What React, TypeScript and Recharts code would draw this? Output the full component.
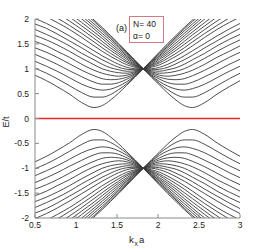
import React from 'react';
import { LineChart, Line, XAxis, YAxis } from 'recharts';

// k_x a sample points (Dirac point near 1.82)
const kValues = [0.5, 0.64, 0.77, 0.92, 1.07, 1.22, 1.32, 1.42, 1.52, 1.62, 1.72, 1.82, 1.92, 2.02, 2.12, 2.22, 2.32, 2.42, 2.57, 2.72, 2.87, 3.0];

// E/t of the positive sub-bands
const upperBands = [
  [0.87, 0.76, 0.64, 0.49, 0.32, 0.22, 0.26, 0.37, 0.51, 0.67, 0.83, 1, 1.17, 1.34, 1.51, 1.67, 1.83, 1.98, 2.2, 2.39, 2.56, 2.69],
  [1.01, 0.91, 0.8, 0.66, 0.52, 0.43, 0.43, 0.48, 0.58, 0.7, 0.85, 1, 1.16, 1.32, 1.48, 1.64, 1.8, 1.95, 2.16, 2.35, 2.52, 2.65],
  [1.15, 1.05, 0.95, 0.82, 0.69, 0.6, 0.57, 0.59, 0.65, 0.74, 0.86, 1, 1.15, 1.3, 1.45, 1.61, 1.76, 1.9, 2.11, 2.3, 2.47, 2.59],
  [1.29, 1.19, 1.09, 0.96, 0.84, 0.73, 0.69, 0.69, 0.72, 0.79, 0.88, 1, 1.13, 1.27, 1.42, 1.57, 1.71, 1.85, 2.06, 2.24, 2.41, 2.53],
  [1.42, 1.33, 1.23, 1.1, 0.97, 0.86, 0.8, 0.78, 0.79, 0.83, 0.9, 1, 1.12, 1.25, 1.38, 1.52, 1.66, 1.8, 2, 2.18, 2.34, 2.46],
  [1.55, 1.46, 1.35, 1.23, 1.09, 0.97, 0.91, 0.87, 0.85, 0.87, 0.92, 1, 1.1, 1.22, 1.34, 1.47, 1.61, 1.74, 1.93, 2.11, 2.27, 2.39],
  [1.67, 1.58, 1.48, 1.35, 1.21, 1.08, 1, 0.95, 0.92, 0.91, 0.94, 1, 1.08, 1.19, 1.3, 1.42, 1.55, 1.68, 1.86, 2.04, 2.19, 2.31],
  [1.79, 1.69, 1.59, 1.46, 1.31, 1.18, 1.09, 1.02, 0.98, 0.95, 0.96, 1, 1.07, 1.15, 1.26, 1.37, 1.49, 1.61, 1.79, 1.96, 2.11, 2.22],
  [1.9, 1.81, 1.7, 1.56, 1.42, 1.27, 1.18, 1.1, 1.03, 0.99, 0.98, 1, 1.05, 1.12, 1.21, 1.31, 1.42, 1.54, 1.71, 1.87, 2.02, 2.13],
  [2.01, 1.91, 1.8, 1.66, 1.51, 1.36, 1.26, 1.17, 1.09, 1.03, 1, 1, 1.03, 1.08, 1.16, 1.25, 1.35, 1.46, 1.63, 1.79, 1.93, 2.04],
  [2.14, 2.04, 1.93, 1.79, 1.63, 1.46, 1.35, 1.25, 1.16, 1.08, 1.03, 1, 1, 1.03, 1.09, 1.17, 1.26, 1.36, 1.51, 1.66, 1.8, 1.91],
  [2.24, 2.13, 2.02, 1.87, 1.71, 1.54, 1.42, 1.31, 1.21, 1.12, 1.05, 1, 0.98, 0.99, 1.03, 1.1, 1.18, 1.27, 1.42, 1.56, 1.7, 1.81],
  [2.33, 2.22, 2.11, 1.96, 1.79, 1.61, 1.49, 1.37, 1.26, 1.15, 1.07, 1, 0.96, 0.95, 0.98, 1.02, 1.09, 1.18, 1.31, 1.46, 1.59, 1.69],
  [2.41, 2.31, 2.19, 2.04, 1.86, 1.68, 1.55, 1.42, 1.3, 1.19, 1.08, 1, 0.94, 0.91, 0.92, 0.95, 1, 1.08, 1.21, 1.35, 1.48, 1.58],
  [2.5, 2.39, 2.27, 2.11, 1.93, 1.74, 1.61, 1.47, 1.34, 1.22, 1.1, 1, 0.92, 0.87, 0.85, 0.87, 0.91, 0.97, 1.09, 1.23, 1.35, 1.46],
  [2.57, 2.46, 2.34, 2.18, 2, 1.8, 1.66, 1.52, 1.38, 1.25, 1.12, 1, 0.9, 0.83, 0.79, 0.78, 0.8, 0.86, 0.97, 1.1, 1.23, 1.33],
  [2.64, 2.53, 2.41, 2.24, 2.06, 1.85, 1.71, 1.57, 1.42, 1.27, 1.13, 1, 0.88, 0.79, 0.72, 0.69, 0.69, 0.73, 0.84, 0.96, 1.09, 1.19],
  [2.7, 2.59, 2.47, 2.3, 2.11, 1.9, 1.76, 1.61, 1.45, 1.3, 1.15, 1, 0.86, 0.74, 0.65, 0.59, 0.57, 0.6, 0.69, 0.82, 0.95, 1.05],
  [2.76, 2.65, 2.52, 2.35, 2.16, 1.95, 1.8, 1.64, 1.48, 1.32, 1.16, 1, 0.85, 0.7, 0.58, 0.48, 0.43, 0.43, 0.52, 0.66, 0.8, 0.91],
  [2.8, 2.69, 2.56, 2.39, 2.2, 1.98, 1.83, 1.67, 1.51, 1.34, 1.17, 1, 0.83, 0.67, 0.51, 0.37, 0.26, 0.22, 0.32, 0.49, 0.64, 0.76],
];

// E/t of the negative sub-bands
const lowerBands = [
  [-0.87, -0.76, -0.64, -0.49, -0.32, -0.22, -0.26, -0.37, -0.51, -0.67, -0.83, -1, -1.17, -1.34, -1.51, -1.67, -1.83, -1.98, -2.2, -2.39, -2.56, -2.69],
  [-1.01, -0.91, -0.8, -0.66, -0.52, -0.43, -0.43, -0.48, -0.58, -0.7, -0.85, -1, -1.16, -1.32, -1.48, -1.64, -1.8, -1.95, -2.16, -2.35, -2.52, -2.65],
  [-1.15, -1.05, -0.95, -0.82, -0.69, -0.6, -0.57, -0.59, -0.65, -0.74, -0.86, -1, -1.15, -1.3, -1.45, -1.61, -1.76, -1.9, -2.11, -2.3, -2.47, -2.59],
  [-1.29, -1.19, -1.09, -0.96, -0.84, -0.73, -0.69, -0.69, -0.72, -0.79, -0.88, -1, -1.13, -1.27, -1.42, -1.57, -1.71, -1.85, -2.06, -2.24, -2.41, -2.53],
  [-1.42, -1.33, -1.23, -1.1, -0.97, -0.86, -0.8, -0.78, -0.79, -0.83, -0.9, -1, -1.12, -1.25, -1.38, -1.52, -1.66, -1.8, -2, -2.18, -2.34, -2.46],
  [-1.55, -1.46, -1.35, -1.23, -1.09, -0.97, -0.91, -0.87, -0.85, -0.87, -0.92, -1, -1.1, -1.22, -1.34, -1.47, -1.61, -1.74, -1.93, -2.11, -2.27, -2.39],
  [-1.67, -1.58, -1.48, -1.35, -1.21, -1.08, -1, -0.95, -0.92, -0.91, -0.94, -1, -1.08, -1.19, -1.3, -1.42, -1.55, -1.68, -1.86, -2.04, -2.19, -2.31],
  [-1.79, -1.69, -1.59, -1.46, -1.31, -1.18, -1.09, -1.02, -0.98, -0.95, -0.96, -1, -1.07, -1.15, -1.26, -1.37, -1.49, -1.61, -1.79, -1.96, -2.11, -2.22],
  [-1.9, -1.81, -1.7, -1.56, -1.42, -1.27, -1.18, -1.1, -1.03, -0.99, -0.98, -1, -1.05, -1.12, -1.21, -1.31, -1.42, -1.54, -1.71, -1.87, -2.02, -2.13],
  [-2.01, -1.91, -1.8, -1.66, -1.51, -1.36, -1.26, -1.17, -1.09, -1.03, -1, -1, -1.03, -1.08, -1.16, -1.25, -1.35, -1.46, -1.63, -1.79, -1.93, -2.04],
  [-2.14, -2.04, -1.93, -1.79, -1.63, -1.46, -1.35, -1.25, -1.16, -1.08, -1.03, -1, -1, -1.03, -1.09, -1.17, -1.26, -1.36, -1.51, -1.66, -1.8, -1.91],
  [-2.24, -2.13, -2.02, -1.87, -1.71, -1.54, -1.42, -1.31, -1.21, -1.12, -1.05, -1, -0.98, -0.99, -1.03, -1.1, -1.18, -1.27, -1.42, -1.56, -1.7, -1.81],
  [-2.33, -2.22, -2.11, -1.96, -1.79, -1.61, -1.49, -1.37, -1.26, -1.15, -1.07, -1, -0.96, -0.95, -0.98, -1.02, -1.09, -1.18, -1.31, -1.46, -1.59, -1.69],
  [-2.41, -2.31, -2.19, -2.04, -1.86, -1.68, -1.55, -1.42, -1.3, -1.19, -1.08, -1, -0.94, -0.91, -0.92, -0.95, -1, -1.08, -1.21, -1.35, -1.48, -1.58],
  [-2.5, -2.39, -2.27, -2.11, -1.93, -1.74, -1.61, -1.47, -1.34, -1.22, -1.1, -1, -0.92, -0.87, -0.85, -0.87, -0.91, -0.97, -1.09, -1.23, -1.35, -1.46],
  [-2.57, -2.46, -2.34, -2.18, -2, -1.8, -1.66, -1.52, -1.38, -1.25, -1.12, -1, -0.9, -0.83, -0.79, -0.78, -0.8, -0.86, -0.97, -1.1, -1.23, -1.33],
  [-2.64, -2.53, -2.41, -2.24, -2.06, -1.85, -1.71, -1.57, -1.42, -1.27, -1.13, -1, -0.88, -0.79, -0.72, -0.69, -0.69, -0.73, -0.84, -0.96, -1.09, -1.19],
  [-2.7, -2.59, -2.47, -2.3, -2.11, -1.9, -1.76, -1.61, -1.45, -1.3, -1.15, -1, -0.86, -0.74, -0.65, -0.59, -0.57, -0.6, -0.69, -0.82, -0.95, -1.05],
  [-2.76, -2.65, -2.52, -2.35, -2.16, -1.95, -1.8, -1.64, -1.48, -1.32, -1.16, -1, -0.85, -0.7, -0.58, -0.48, -0.43, -0.43, -0.52, -0.66, -0.8, -0.91],
  [-2.8, -2.69, -2.56, -2.39, -2.2, -1.98, -1.83, -1.67, -1.51, -1.34, -1.17, -1, -0.83, -0.67, -0.51, -0.37, -0.26, -0.22, -0.32, -0.49, -0.64, -0.76],
];

// flat band at E = 0 (red)
const flatBand = [0, 0, 0, 0, 0, 0, 0, 0, 0, 0, 0, 0, 0, 0, 0, 0, 0, 0, 0, 0, 0, 0];

const xTicks = [0.5, 1, 1.5, 2, 2.5, 3];
const yTicks = [-2, -1.5, -1, -0.5, 0, 0.5, 1, 1.5, 2];

const rows = kValues.map((k, i) => {
  const row: Record<string, number> = { k, flat: flatBand[i] };
  upperBands.forEach((band, j) => {
    row['u' + j] = band[i];
  });
  lowerBands.forEach((band, j) => {
    row['l' + j] = band[i];
  });
  return row;
});

const FONT = '"Liberation Sans", Arial, sans-serif';
const AXIS = '#8a8a8a';
const tickStyle = { fontSize: 8.5, fill: '#222', fontFamily: FONT };

export default function App() {
  return (
    <div style={{ position: 'relative', width: 266, height: 251, background: '#fff' }}>
      <style>{'body { margin: 0; }'}</style>
      <LineChart width={266} height={251} data={rows} margin={{ top: 19, right: 26, bottom: 13, left: 0 }}>
        <XAxis
          dataKey="k"
          type="number"
          domain={[0.5, 3]}
          ticks={xTicks}
          allowDataOverflow
          height={20}
          stroke={AXIS}
          tick={tickStyle}
          tickSize={-4}
          tickMargin={8}
        />
        <XAxis
          xAxisId="top"
          orientation="top"
          dataKey="k"
          type="number"
          domain={[0.5, 3]}
          ticks={xTicks}
          allowDataOverflow
          height={0}
          stroke={AXIS}
          tickFormatter={() => ''}
          tickSize={-4}
        />
        <YAxis
          type="number"
          domain={[-2, 2]}
          ticks={yTicks}
          allowDataOverflow
          width={35}
          stroke={AXIS}
          tick={tickStyle}
          tickSize={-4}
          tickMargin={10}
        />
        <YAxis
          yAxisId="right"
          orientation="right"
          type="number"
          domain={[-2, 2]}
          ticks={yTicks}
          allowDataOverflow
          width={0}
          stroke="#a0a0a0"
          strokeWidth={1.5}
          tickFormatter={() => ''}
          tickSize={-4}
        />
        {upperBands.map((_, j) => (
          <Line
            key={'u' + j}
            dataKey={'u' + j}
            type="monotone"
            stroke="#3a3a3a"
            strokeWidth={0.9}
            dot={false}
            isAnimationActive={false}
          />
        ))}
        {lowerBands.map((_, j) => (
          <Line
            key={'l' + j}
            dataKey={'l' + j}
            type="monotone"
            stroke="#3a3a3a"
            strokeWidth={0.9}
            dot={false}
            isAnimationActive={false}
          />
        ))}
        <Line dataKey="flat" type="linear" stroke="#e8262b" strokeWidth={1.6} dot={false} isAnimationActive={false} />
      </LineChart>
      <svg width={266} height={251} style={{ position: 'absolute', left: 0, top: 0, pointerEvents: 'none' }}>
        <text x={116} y={31} fontSize={9} fontFamily={FONT} fill="#222">(a)</text>
        <rect x={129.5} y={16.5} width={34} height={26} fill="#fff" stroke="#d07a88" strokeWidth={1} />
        <text x={133} y={26.5} fontSize={8.5} fontFamily={FONT} fill="#222">N= 40</text>
        <text x={133} y={38.5} fontSize={8.5} fontFamily={FONT} fill="#222">α= 0</text>
        <text x={0} y={0} fontSize={9} fontFamily={FONT} fill="#222" textAnchor="middle" transform="translate(9,122) rotate(-90)">E/t</text>
        <text x={129} y={243} fontSize={9.5} fontFamily={FONT} fill="#222">k</text>
        <text x={134.5} y={246} fontSize={6.5} fontFamily={FONT} fill="#222">x</text>
        <text x={139} y={243} fontSize={9.5} fontFamily={FONT} fill="#222">a</text>
      </svg>
    </div>
  );
}
